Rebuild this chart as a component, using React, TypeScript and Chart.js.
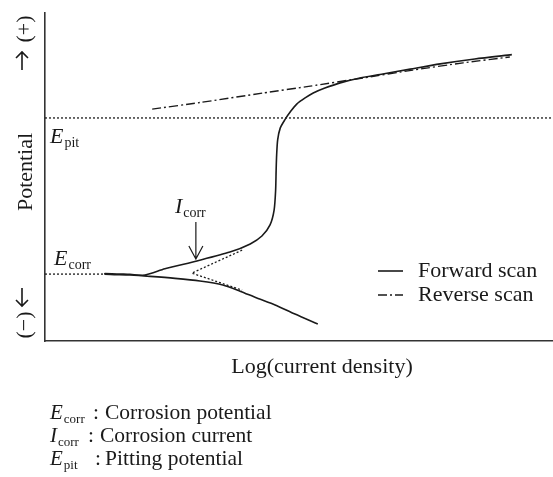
import React, { useEffect, useRef } from "react";
import { Chart, registerables } from "chart.js";

Chart.register(...registerables);

// Schematic polarization curve (arbitrary units: x = log current density, y = potential)
const forwardX = [53.7, 49.2, 45.3, 41.7, 38.4, 35.0, 30.5, 25.6, 20.7, 16.7, 11.8,
  11.8, 16.7, 19.7, 23.6, 29.9, 36.4, 40.4, 42.7, 44.3, 45.1, 45.4, 45.5, 45.6, 45.8,
  46.3, 47.2, 48.4, 49.6, 51.2, 52.8, 55.1, 58.1, 62.0, 66.5, 71.9, 77.8, 84.6, 91.9];
const forwardY = [5.2, 8.2, 11.0, 13.1, 15.2, 17.1, 18.3, 19.1, 19.7, 20.1, 20.4,
  20.6, 20.3, 20.1, 22.0, 24.4, 27.1, 29.6, 32.0, 35.4, 39.9, 46.0, 52.1, 56.7, 61.3,
  64.9, 67.4, 70.1, 72.3, 74.1, 75.6, 77.1, 78.7, 80.2, 81.4, 82.9, 84.5, 86.0, 87.3];
const reverseX = [21.1, 30.5, 42.9, 52.2, 62.6, 72.4, 82.3, 91.5];
const reverseY = [70.7, 72.7, 75.6, 77.7, 80.2, 82.6, 84.8, 86.6];
const tafelX = [38.8, 28.9, 38.8];
const tafelY = [27.7, 20.7, 15.5];
const E_PIT = 68.0;
const E_CORR = 20.4;
const E_CORR_TIP_X = 11.8;
const I_CORR_X = 29.7;
const ARROW_TOP_Y = 36.3;
const ARROW_TIP_Y = 25.0;

const seriesLabels = ["Forward scan", "Reverse scan"];
const xTitle = "Log(current density)";
const yTitle = "Potential";
const notes: [string, string, string][] = [
  ["E", "corr", "Corrosion potential"],
  ["I", "corr", "Corrosion current"],
  ["E", "pit", "Pitting potential"],
];
const noteColonX = [93, 88, 95];
const noteTextX = [105, 100, 105];

const SERIF = '"Liberation Serif", "Times New Roman", Times, serif';
const INK = "#1a1a1a";
const FS = 22;

const pts = (xs: number[], ys: number[]) => xs.map((x, i) => ({ x, y: ys[i] }));

function drawSub(ctx: CanvasRenderingContext2D, x: number, y: number, main: string, sub: string, size: number) {
  ctx.textAlign = "left";
  ctx.textBaseline = "alphabetic";
  ctx.font = `italic ${size}px ${SERIF}`;
  ctx.fillText(main, x, y);
  const w = ctx.measureText(main).width;
  ctx.font = `${Math.round(size * 0.62)}px ${SERIF}`;
  ctx.fillText(sub, x + w + 1, y + size * 0.18);
  return x + w + 1 + ctx.measureText(sub).width;
}

function rotText(ctx: CanvasRenderingContext2D, text: string, cx: number, cy: number) {
  ctx.save();
  ctx.translate(cx, cy);
  ctx.rotate(-Math.PI / 2);
  ctx.font = `${FS}px ${SERIF}`;
  ctx.textAlign = "center";
  ctx.textBaseline = "middle";
  ctx.fillText(text, 0, 0);
  ctx.restore();
}

const annotations = {
  id: "annotations",
  afterDraw(chart: any) {
    const ctx: CanvasRenderingContext2D = chart.ctx;
    const xs = chart.scales.x;
    const ys = chart.scales.y;
    const area = chart.chartArea;
    ctx.save();
    ctx.fillStyle = INK;
    ctx.strokeStyle = INK;

    // Y title and direction markers
    rotText(ctx, yTitle, 26, 172);
    rotText(ctx, "(+)", 25, 29);
    rotText(ctx, "(\u2212)", 25, 325);

    ctx.lineWidth = 1.6;
    ctx.setLineDash([]);
    ctx.beginPath();
    ctx.moveTo(22, 70); ctx.lineTo(22, 52);
    ctx.moveTo(16, 58); ctx.lineTo(22, 52); ctx.lineTo(28, 58);
    ctx.moveTo(22, 288); ctx.lineTo(22, 306);
    ctx.moveTo(16, 300); ctx.lineTo(22, 306); ctx.lineTo(28, 300);
    ctx.stroke();

    // E_pit / E_corr labels
    drawSub(ctx, area.left + 5, ys.getPixelForValue(E_PIT) + 25, "E", "pit", FS);
    drawSub(ctx, area.left + 9, ys.getPixelForValue(E_CORR) - 9, "E", "corr", FS);

    // I_corr arrow
    const ax = xs.getPixelForValue(I_CORR_X);
    const at = ys.getPixelForValue(ARROW_TOP_Y);
    const ab = ys.getPixelForValue(ARROW_TIP_Y);
    ctx.lineWidth = 1.2;
    ctx.beginPath();
    ctx.moveTo(ax, at); ctx.lineTo(ax, ab);
    ctx.moveTo(ax - 7, ab - 13); ctx.lineTo(ax, ab); ctx.lineTo(ax + 7, ab - 13);
    ctx.stroke();
    drawSub(ctx, ax - 21, at - 9, "I", "corr", FS);

    // Legend
    const lx = area.right - 175;
    const ly0 = 271;
    chart.data.datasets.forEach((ds: any) => {
      if (ds.legendRow === undefined) return;
      const y = ly0 + ds.legendRow * 24;
      ctx.save();
      ctx.strokeStyle = ds.borderColor;
      ctx.lineWidth = ds.borderWidth;
      ctx.setLineDash(ds.borderDash || []);
      ctx.beginPath();
      ctx.moveTo(lx, y); ctx.lineTo(lx + 25, y);
      ctx.stroke();
      ctx.restore();
      ctx.font = `${FS}px ${SERIF}`;
      ctx.textAlign = "left";
      ctx.textBaseline = "middle";
      ctx.fillText(ds.label, lx + 40, y);
    });

    // X title
    ctx.font = `${FS}px ${SERIF}`;
    ctx.textAlign = "center";
    ctx.textBaseline = "middle";
    ctx.fillText(xTitle, 322, 367);

    // Notes
    notes.forEach((n, i) => {
      const base = 419 + i * 23;
      drawSub(ctx, 50, base, n[0], n[1], 21);
      ctx.font = `21.5px ${SERIF}`;
      ctx.textAlign = "left";
      ctx.textBaseline = "alphabetic";
      ctx.fillText(":", noteColonX[i], base);
      ctx.fillText(n[2], noteTextX[i], base);
    });
    ctx.restore();
  },
};

export default function App() {
  const ref = useRef<HTMLCanvasElement>(null);
  useEffect(() => {
    if (!ref.current) return;
    const dotted = { borderColor: INK, borderWidth: 1.3, borderDash: [2, 2], pointRadius: 0, showLine: true, fill: false, tension: 0 };
    const chart = new Chart(ref.current, {
      type: "scatter",
      data: {
        datasets: [
          { label: "E_pit", data: [{ x: 0, y: E_PIT }, { x: 100, y: E_PIT }], ...dotted },
          { label: "E_corr", data: [{ x: 0, y: E_CORR }, { x: E_CORR_TIP_X, y: E_CORR }], ...dotted },
          { label: "Tafel", data: pts(tafelX, tafelY), ...dotted },
          {
            label: seriesLabels[0], data: pts(forwardX, forwardY), showLine: true, borderColor: INK,
            borderWidth: 1.6, pointRadius: 0, tension: 0.25, fill: false, legendRow: 0,
          } as any,
          {
            label: seriesLabels[1], data: pts(reverseX, reverseY), showLine: true, borderColor: INK,
            borderWidth: 1.4, borderDash: [9, 3, 2, 3], pointRadius: 0, tension: 0.2, fill: false, legendRow: 1,
          } as any,
        ],
      },
      options: {
        responsive: false,
        animation: false,
        layout: { padding: { left: 45, top: 13, right: 0, bottom: 136 } },
        plugins: { legend: { display: false }, tooltip: { enabled: false } },
        scales: {
          x: {
            type: "linear", min: 0, max: 100,
            ticks: { display: false }, grid: { display: false, drawTicks: false },
            border: { display: true, color: "#333", width: 1.6 },
          },
          y: {
            type: "linear", min: 0, max: 100,
            ticks: { display: false }, grid: { display: false, drawTicks: false },
            border: { display: true, color: "#333", width: 1.6 },
          },
        },
      },
      plugins: [annotations],
    });
    return () => chart.destroy();
  }, []);
  return (
    <div style={{ position: "absolute", left: 0, top: 0, width: 553, height: 477, background: "#fff" }}>
      <canvas ref={ref} width={553} height={477} />
    </div>
  );
}
